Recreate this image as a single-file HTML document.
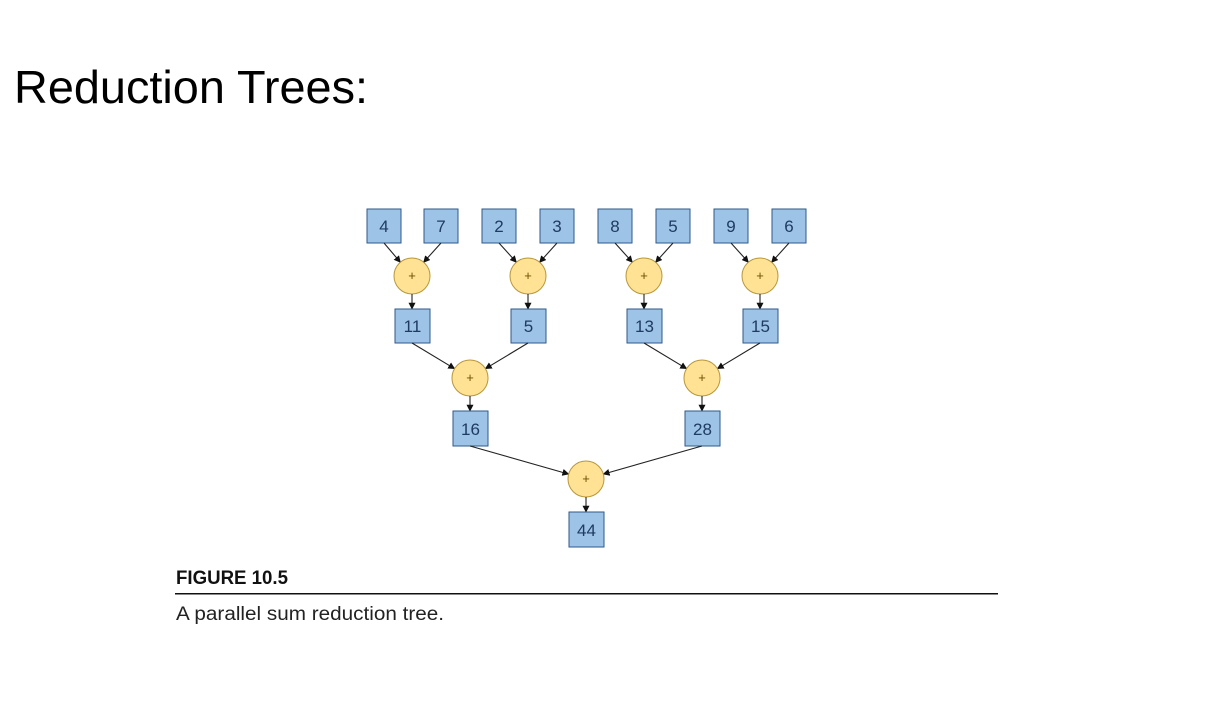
<!DOCTYPE html>
<html><head><meta charset="utf-8"><style>
html,body{margin:0;padding:0;background:#fff;}
svg{display:block}
.b{fill:#9dc3e6;stroke:#2e5a8a;stroke-width:1}
.c{fill:#ffe294;stroke:#b8973a;stroke-width:1}
.t{font-family:"Liberation Sans",sans-serif;font-size:17px;fill:#1f3b63;text-anchor:middle}
.p{font-family:"Liberation Sans",sans-serif;font-size:13px;fill:#6b5200;text-anchor:middle}
line{stroke:#222;stroke-width:1.1;marker-end:url(#a)}
</style></head><body>
<svg width="1226" height="701" viewBox="0 0 1226 701" xmlns="http://www.w3.org/2000/svg">
<defs><marker id="a" viewBox="0 0 10 10" refX="9" refY="5" markerWidth="7" markerHeight="7" orient="auto" markerUnits="userSpaceOnUse"><path d="M0,0 L10,5 L0,10 z" fill="#111"/></marker></defs>
<text x="14" y="103" font-family="Liberation Sans, sans-serif" font-size="46" textLength="354" lengthAdjust="spacingAndGlyphs">Reduction Trees:</text>

<!-- top boxes -->
<g>
<rect class="b" x="367" y="209" width="34" height="34"/><text class="t" x="384" y="232">4</text>
<rect class="b" x="424" y="209" width="34" height="34"/><text class="t" x="441" y="232">7</text>
<rect class="b" x="482" y="209" width="34" height="34"/><text class="t" x="499" y="232">2</text>
<rect class="b" x="540" y="209" width="34" height="34"/><text class="t" x="557" y="232">3</text>
<rect class="b" x="598" y="209" width="34" height="34"/><text class="t" x="615" y="232">8</text>
<rect class="b" x="656" y="209" width="34" height="34"/><text class="t" x="673" y="232">5</text>
<rect class="b" x="714" y="209" width="34" height="34"/><text class="t" x="731" y="232">9</text>
<rect class="b" x="772" y="209" width="34" height="34"/><text class="t" x="789" y="232">6</text>
</g>
<!-- level 1 arrows -->
<line x1="384" y1="243" x2="400.4" y2="262.3"/><line x1="441" y1="243" x2="423.6" y2="262.3"/>
<line x1="499" y1="243" x2="516.4" y2="262.3"/><line x1="557" y1="243" x2="539.6" y2="262.3"/>
<line x1="615" y1="243" x2="632.4" y2="262.3"/><line x1="673" y1="243" x2="655.6" y2="262.3"/>
<line x1="731" y1="243" x2="748.4" y2="262.3"/><line x1="789" y1="243" x2="771.6" y2="262.3"/>
<!-- level1 circles -->
<circle class="c" cx="412" cy="276" r="18"/><text class="p" x="412" y="280">+</text>
<circle class="c" cx="528" cy="276" r="18"/><text class="p" x="528" y="280">+</text>
<circle class="c" cx="644" cy="276" r="18"/><text class="p" x="644" y="280">+</text>
<circle class="c" cx="760" cy="276" r="18"/><text class="p" x="760" y="280">+</text>
<line x1="412" y1="294" x2="412" y2="309"/><line x1="528" y1="294" x2="528" y2="309"/>
<line x1="644" y1="294" x2="644" y2="309"/><line x1="760" y1="294" x2="760" y2="309"/>
<rect class="b" x="395" y="309" width="35" height="34"/><text class="t" x="412.5" y="332">11</text>
<rect class="b" x="511" y="309" width="35" height="34"/><text class="t" x="528.5" y="332">5</text>
<rect class="b" x="627" y="309" width="35" height="34"/><text class="t" x="644.5" y="332">13</text>
<rect class="b" x="743" y="309" width="35" height="34"/><text class="t" x="760.5" y="332">15</text>
<!-- level 2 -->
<line x1="412" y1="343" x2="454.6" y2="368.7"/><line x1="528" y1="343" x2="485.4" y2="368.7"/>
<line x1="644" y1="343" x2="686.6" y2="368.7"/><line x1="760" y1="343" x2="717.4" y2="368.7"/>
<circle class="c" cx="470" cy="378" r="18"/><text class="p" x="470" y="382">+</text>
<circle class="c" cx="702" cy="378" r="18"/><text class="p" x="702" y="382">+</text>
<line x1="470" y1="396" x2="470" y2="411"/><line x1="702" y1="396" x2="702" y2="411"/>
<rect class="b" x="453" y="411" width="35" height="35"/><text class="t" x="470.5" y="435">16</text>
<rect class="b" x="685" y="411" width="35" height="35"/><text class="t" x="702.5" y="435">28</text>
<!-- level 3 -->
<line x1="470" y1="446" x2="568.7" y2="474.1"/><line x1="702" y1="446" x2="603.3" y2="474.1"/>
<circle class="c" cx="586" cy="479" r="18"/><text class="p" x="586" y="483">+</text>
<line x1="586" y1="497" x2="586" y2="512"/>
<rect class="b" x="569" y="512" width="35" height="35"/><text class="t" x="586.5" y="536">44</text>

<text x="176" y="584" font-family="Liberation Sans, sans-serif" font-weight="bold" font-size="19" textLength="112" lengthAdjust="spacingAndGlyphs" fill="#111">FIGURE 10.5</text>
<rect x="175" y="593" width="823" height="1.5" fill="#111"/>
<text x="176" y="620" font-family="Liberation Sans, sans-serif" font-size="19" textLength="268" lengthAdjust="spacingAndGlyphs" fill="#222">A parallel sum reduction tree.</text>
</svg>
</body></html>
